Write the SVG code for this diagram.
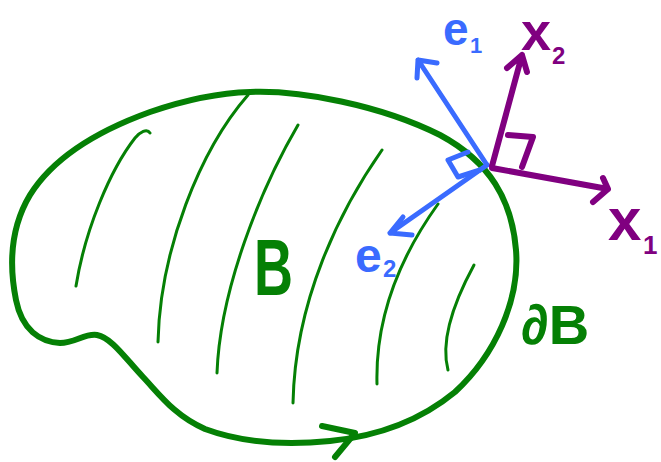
<svg xmlns="http://www.w3.org/2000/svg" width="661" height="462" viewBox="0 0 661 462">
<style>
.g{stroke:#058005;fill:none;stroke-linecap:round;stroke-linejoin:round}
.b{stroke:#3a6bff;fill:none;stroke-width:5;stroke-linecap:round;stroke-linejoin:round}
.p{stroke:#800080;fill:none;stroke-width:6;stroke-linecap:round;stroke-linejoin:round}
.t{font-family:"Liberation Sans",Arial,sans-serif;font-weight:bold}
.tg{fill:#058005}.tb{fill:#3a6bff}.tp{fill:#800080}
</style>
<rect width="661" height="462" fill="#fff"/>
<g id="body">
<path class="g" stroke-width="6" d="M250,92 C300,90 380,105 440,135 C490,162 512,200 516,250 C520,300 495,355 455,392 C415,425 370,437 330,441 C280,446 240,442 205,429 C175,416 160,395 143,377 C125,358 112,338 97,335 C85,333 75,343 60,343 C40,342 22,330 16,300 C8,260 12,225 30,195 C55,155 100,130 150,112 C185,100 215,93 250,92 Z"/>
<path class="g" stroke-width="3" d="M150,133 C147,128 140,132 135,138 C110,170 85,230 76,286"/>
<path class="g" stroke-width="3" d="M248,95 C200,150 160,250 158,342"/>
<path class="g" stroke-width="3" d="M298,125 C260,190 220,290 217,373"/>
<path class="g" stroke-width="3" d="M382,150 C340,210 295,300 293,403"/>
<path class="g" stroke-width="3" d="M438,204 C405,250 375,310 377,384"/>
<path class="g" stroke-width="3" d="M474,265 C455,300 440,340 448,370"/>
<path class="g" stroke-width="6" d="M322,426 L355,433 L335,457"/>
<text class="t tg" transform="translate(254,295) scale(0.75,1.1)" font-size="72">B</text>
<text class="t tg" x="521" y="344" font-size="56">∂B</text>
</g>
<g id="frame-e">
<path class="b" d="M487,165 L418,60 M417,78 L418,60 L437,63"/>
<path class="b" d="M487,165 L390,233 M403,217 L390,233 L412,235"/>
<path class="b" d="M468,152 L448,160 L458,177 L480,170"/>
<text class="t tb" x="443" y="45" font-size="46">e</text>
<text class="t tb" x="470" y="53" font-size="22">1</text>
<text class="t tb" x="355" y="272" font-size="48">e</text>
<text class="t tb" x="383" y="277" font-size="24">2</text>
</g>
<g id="frame-x">
<path class="p" d="M492,166 L522,55 M507,68 L522,55 L527,72"/>
<path class="p" d="M492,168 L608,189 M603,178 L608,189 L593,202"/>
<path class="p" d="M508,135 L533,137 L522,167"/>
<text class="t tp" x="521" y="50" font-size="54">x</text>
<text class="t tp" x="552" y="64" font-size="24">2</text>
<text class="t tp" x="608" y="240" font-size="60">x</text>
<text class="t tp" x="643" y="254" font-size="26">1</text>
</g>
</svg>
